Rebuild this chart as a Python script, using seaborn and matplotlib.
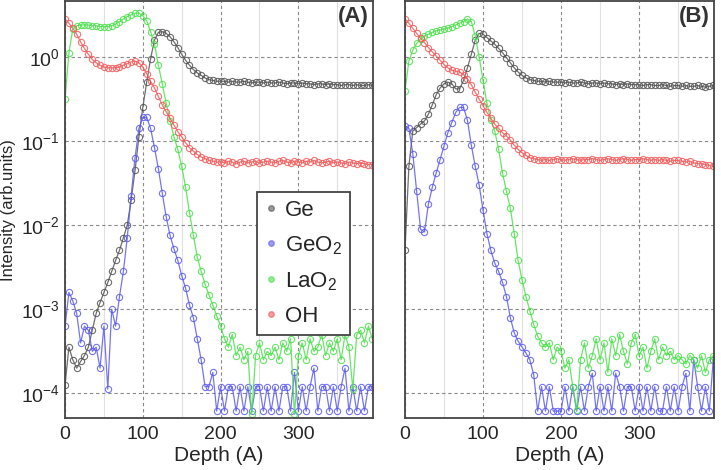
import numpy as np
import pandas as pd
import matplotlib
matplotlib.use("Agg")
import matplotlib.pyplot as plt
from matplotlib.lines import Line2D
from matplotlib.ticker import FixedLocator, NullLocator
import seaborn as sns

# depth grid (A)
depth = [0, 5, 10, 15, 20, 25, 30, 35, 40, 45,
         50, 55, 60, 65, 70, 75, 80, 85, 90, 95,
         100, 105, 110, 115, 120, 125, 130, 135, 140, 145,
         150, 155, 160, 165, 170, 175, 180, 185, 190, 195,
         200, 205, 210, 215, 220, 225, 230, 235, 240, 245,
         250, 255, 260, 265, 270, 275, 280, 285, 290, 295,
         300, 305, 310, 315, 320, 325, 330, 335, 340, 345,
         350, 355, 360, 365, 370, 375, 380, 385, 390, 395]

# intensities, kept as log10(arb. units)
# --- panel (A)
ge_a = [-3.90, -3.45, -3.60, -3.70, -3.62, -3.55, -3.45, -3.25, -3.05, -2.92,
        -2.80, -2.68, -2.55, -2.42, -2.30, -2.15, -2.00, -1.70, -1.35, -0.95,
        -0.60, -0.30, -0.02, 0.20, 0.29, 0.30, 0.28, 0.24, 0.18, 0.11,
        0.03, -0.04, -0.10, -0.15, -0.19, -0.22, -0.25, -0.27, -0.28, -0.29,
        -0.29, -0.29, -0.30, -0.29, -0.30, -0.30, -0.29, -0.30, -0.31, -0.30,
        -0.30, -0.31, -0.30, -0.31, -0.31, -0.30, -0.31, -0.32, -0.31, -0.31,
        -0.32, -0.31, -0.32, -0.32, -0.33, -0.32, -0.32, -0.33, -0.32, -0.33,
        -0.33, -0.34, -0.33, -0.33, -0.34, -0.33, -0.34, -0.34, -0.33, -0.34]
geo2_a = [-3.20, -2.80, -2.90, -3.05, -3.40, -3.20, -3.25, -3.50, -3.45, -3.70,
          -3.20, -3.95, -3.00, -3.20, -2.85, -2.55, -2.15, -1.65, -1.20, -0.85,
          -0.72, -0.72, -0.85, -1.08, -1.33, -1.62, -1.90, -2.12, -2.28, -2.42,
          -2.60, -2.75, -2.95, -3.10, -3.35, -3.60, -3.92, -3.92, -3.75, -4.21,
          -3.92, -4.21, -3.92, -3.92, -4.21, -3.92, -4.21, -3.92, -4.21, -3.92,
          -3.92, -4.21, -3.92, -4.21, -3.92, -4.21, -3.92, -3.92, -4.21, -3.75,
          -4.21, -3.92, -4.21, -3.92, -3.70, -4.21, -3.92, -3.92, -4.21, -3.92,
          -4.21, -3.92, -3.70, -4.21, -3.92, -4.21, -3.92, -4.21, -3.92, -3.92]
lao2_a = [-0.50, 0.05, 0.33, 0.37, 0.38, 0.38, 0.38, 0.37, 0.37, 0.36,
          0.36, 0.36, 0.37, 0.39, 0.42, 0.45, 0.48, 0.50, 0.52, 0.52,
          0.49, 0.43, 0.30, 0.15, -0.10, -0.32, -0.55, -0.76, -0.95, -1.10,
          -1.30, -1.55, -1.85, -2.12, -2.38, -2.55, -2.70, -2.83, -2.95, -3.08,
          -3.20, -3.35, -3.45, -3.30, -3.55, -3.45, -3.60, -3.50, -4.25, -3.55,
          -3.40, -3.60, -3.50, -3.55, -3.45, -3.60, -3.40, -3.50, -3.35, -4.25,
          -3.55, -3.40, -3.60, -3.35, -3.50, -3.45, -3.30, -3.55, -3.40, -3.50,
          -3.35, -3.60, -3.30, -3.45, -3.95, -3.30, -3.25, -3.40, -3.20, -3.35]
oh_a = [0.45, 0.40, 0.34, 0.27, 0.18, 0.10, 0.03, -0.03, -0.07, -0.10,
        -0.12, -0.13, -0.13, -0.13, -0.12, -0.10, -0.08, -0.06, -0.05, -0.07,
        -0.12, -0.20, -0.29, -0.37, -0.47, -0.57, -0.65, -0.73, -0.81, -0.89,
        -0.95, -1.02, -1.08, -1.12, -1.16, -1.19, -1.21, -1.23, -1.24, -1.25,
        -1.25, -1.26, -1.24, -1.25, -1.27, -1.25, -1.24, -1.26, -1.25, -1.24,
        -1.26, -1.25, -1.24, -1.25, -1.26, -1.24, -1.23, -1.25, -1.26, -1.24,
        -1.25, -1.26, -1.24, -1.25, -1.23, -1.25, -1.26, -1.25, -1.24, -1.26,
        -1.25, -1.26, -1.27, -1.25, -1.26, -1.27, -1.26, -1.27, -1.28, -1.28]

# --- panel (B)
ge_b = [-2.30, -1.30, -0.88, -0.84, -0.80, -0.76, -0.68, -0.57, -0.45, -0.37,
        -0.32, -0.30, -0.32, -0.38, -0.38, -0.28, -0.13, 0.03, 0.20, 0.28,
        0.27, 0.23, 0.19, 0.15, 0.10, 0.05, -0.01, -0.07, -0.13, -0.18,
        -0.22, -0.25, -0.27, -0.28, -0.29, -0.29, -0.30, -0.29, -0.30, -0.30,
        -0.30, -0.31, -0.30, -0.31, -0.31, -0.30, -0.31, -0.32, -0.31, -0.31,
        -0.32, -0.31, -0.32, -0.32, -0.33, -0.32, -0.33, -0.32, -0.33, -0.33,
        -0.33, -0.34, -0.33, -0.33, -0.34, -0.34, -0.33, -0.34, -0.35, -0.34,
        -0.34, -0.35, -0.34, -0.35, -0.35, -0.34, -0.35, -0.36, -0.35, -0.34]
geo2_b = [-0.82, -0.85, -1.15, -1.60, -2.05, -2.08, -1.75, -1.55, -1.38, -1.22,
          -1.06, -0.90, -0.78, -0.66, -0.60, -0.60, -0.75, -1.05, -1.30, -1.52,
          -1.82, -2.10, -2.30, -2.45, -2.55, -2.68, -2.85, -3.10, -3.28, -3.38,
          -3.45, -3.52, -3.60, -3.78, -4.21, -3.92, -4.21, -3.92, -4.21, -4.21,
          -4.21, -3.92, -4.21, -3.92, -4.21, -3.92, -4.21, -3.92, -3.76, -4.21,
          -3.92, -4.21, -3.92, -4.21, -3.76, -3.92, -4.21, -3.92, -3.92, -4.21,
          -3.92, -4.21, -3.92, -4.21, -3.92, -4.21, -4.21, -3.92, -4.21, -3.92,
          -4.21, -3.92, -3.76, -4.21, -3.60, -3.92, -4.21, -3.92, -4.21, -3.60]
lao2_b = [-0.40, -0.05, 0.08, 0.16, 0.21, 0.25, 0.27, 0.29, 0.31, 0.32,
          0.33, 0.34, 0.36, 0.38, 0.40, 0.42, 0.45, 0.42, 0.25, 0.00,
          -0.28, -0.55, -0.75, -0.88, -1.10, -1.38, -1.60, -1.80, -2.10, -2.42,
          -2.65, -2.85, -3.02, -3.18, -3.32, -3.40, -3.45, -3.40, -3.60, -3.45,
          -3.50, -3.70, -3.60, -3.92, -4.20, -3.60, -3.40, -3.70, -3.55, -3.35,
          -3.60, -3.40, -3.75, -3.35, -3.55, -3.30, -3.50, -3.65, -3.40, -3.30,
          -3.55, -3.45, -3.70, -3.50, -3.35, -3.60, -3.45, -3.55, -3.50, -3.60,
          -3.55, -3.60, -3.65, -3.55, -3.60, -3.70, -3.55, -3.75, -3.60, -3.55]
oh_b = [0.45, 0.40, 0.34, 0.28, 0.22, 0.17, 0.11, 0.06, 0.01, -0.04,
        -0.09, -0.13, -0.16, -0.17, -0.18, -0.21, -0.26, -0.33, -0.42, -0.50,
        -0.58, -0.66, -0.73, -0.80, -0.85, -0.90, -0.94, -0.99, -1.05, -1.10,
        -1.14, -1.17, -1.20, -1.21, -1.22, -1.23, -1.22, -1.23, -1.22, -1.21,
        -1.22, -1.23, -1.22, -1.21, -1.22, -1.23, -1.22, -1.22, -1.21, -1.22,
        -1.23, -1.22, -1.21, -1.22, -1.23, -1.22, -1.21, -1.22, -1.23, -1.22,
        -1.22, -1.21, -1.22, -1.23, -1.22, -1.23, -1.22, -1.23, -1.24, -1.23,
        -1.23, -1.24, -1.25, -1.24, -1.26, -1.27, -1.27, -1.28, -1.29, -1.30]

species = ["Ge", "GeO$_2$", "LaO$_2$", "OH"]
colors = ["#555555", "#5c5cf2", "#4ee04e", "#f25c5c"]

sns.set_style("white")
plt.rcParams["font.family"] = ["Liberation Sans", "DejaVu Sans"]
plt.rcParams["mathtext.default"] = "regular"

fig = plt.figure(figsize=(7.21, 4.70), dpi=100)
ax_a = fig.add_axes([0.0902, 0.1106, 0.4272, 0.887])
ax_b = fig.add_axes([0.5617, 0.1106, 0.4286, 0.887])

panels = [(ax_a, "(A)", [ge_a, geo2_a, lao2_a, oh_a]),
          (ax_b, "(B)", [ge_b, geo2_b, lao2_b, oh_b])]

for ax, tag, series in panels:
    for name, col, logs in zip(species, colors, series):
        df = pd.DataFrame({"depth": depth, "intensity": 10.0 ** np.array(logs)})
        sns.lineplot(data=df, x="depth", y="intensity", ax=ax, estimator=None,
                     color=col, lw=0.9, alpha=0.85, marker="o", markersize=4.5,
                     markerfacecolor="none", markeredgecolor=col, markeredgewidth=0.8)
    ax.set_yscale("log")
    ax.set_xlim(0, 396)
    ax.set_ylim(5.1e-5, 4.6)
    ax.xaxis.set_major_locator(FixedLocator([0, 100, 200, 300]))
    ax.xaxis.set_minor_locator(FixedLocator([50, 150, 250, 350]))
    ax.yaxis.set_major_locator(FixedLocator([1e-4, 1e-3, 1e-2, 1e-1, 1]))
    ax.yaxis.set_minor_locator(NullLocator())
    ax.grid(which="major", color="#8a8a8a", linestyle=(0, (3, 2.5)), linewidth=0.8)
    ax.grid(which="minor", axis="x", color="#e0e0e0", linestyle="-", linewidth=0.8)
    ax.set_axisbelow(True)
    ax.tick_params(which="both", length=0)
    ax.tick_params(axis="x", labelsize=14, pad=6)
    ax.tick_params(axis="y", labelsize=14, pad=4)
    for sp in ax.spines.values():
        sp.set_color("#444444")
        sp.set_linewidth(1.3)
    ax.set_xlabel("Depth (A)", fontsize=15, labelpad=2)
    ax.set_ylabel("")
    ax.text(0.985, 0.988, tag, transform=ax.transAxes, ha="right", va="top",
            fontsize=16, fontweight="bold", color="#333333")

ax_a.set_ylabel("Intensity (arb.units)", fontsize=12, labelpad=3)
ax_b.tick_params(axis="y", labelleft=False)

handles = [Line2D([], [], marker="o", ls="none", markersize=4, color=c, alpha=0.6) for c in colors]
leg = ax_a.legend(handles, species, loc="upper left", bbox_to_anchor=(0.623, 0.542),
                  borderaxespad=0, frameon=True, fancybox=False, edgecolor="#444444",
                  fontsize=16, handlelength=0.6, handletextpad=0.3, labelspacing=0.6,
                  borderpad=0.35, framealpha=1)
leg.get_frame().set_linewidth(1.3)

fig.savefig("out.png", dpi=100)
